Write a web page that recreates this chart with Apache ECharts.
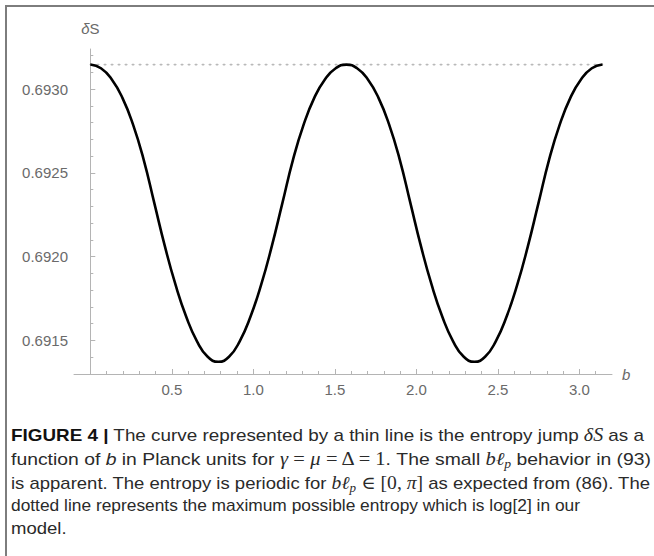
<!DOCTYPE html>
<html>
<head>
<meta charset="utf-8">
<script src="https://cdn.jsdelivr.net/npm/echarts@6/dist/echarts.min.js"></script>
<style>
  html, body { margin: 0; padding: 0; background: #fff; width: 654px; height: 556px; overflow: hidden; }
  #frame { position: absolute; left: 5px; top: 5px; width: 700px; height: 600px;
           border-top: 2px solid #7d7d7d; border-left: 2px solid #7d7d7d; }
  #chart { position: absolute; left: 0; top: 0; width: 654px; height: 410px; }
  #caption { position: absolute; left: 11px; top: 424px; font-family: "Liberation Sans", Arial, sans-serif;
             font-size: 17px; line-height: 22.8px; color: #2a2a2a; white-space: nowrap; }
  #caption .line { display: block; width: max-content; transform-origin: 0 0; }
  #caption b { color: #111; }
  .m { font-family: "Liberation Serif", "DejaVu Serif", serif; font-style: italic; font-size: 18px; }
  .r { font-family: "Liberation Serif", "DejaVu Serif", serif; font-size: 18px; }
  sub { font-size: 12px; vertical-align: -3px; line-height: 0; }
</style>
</head>
<body>
<div id="frame"></div>
<div id="chart"></div>
<div id="caption">
<div class="line"><b>FIGURE 4 |</b> The curve represented by a thin line is the entropy jump <span class="m">δS</span> as a</div>
<div class="line">function of <i>b</i> in Planck units for <span class="m">γ</span> <span class="r">=</span> <span class="m">μ</span> <span class="r">= Δ = 1</span>. The small <span class="m">bℓ<sub>p</sub></span> behavior in (93)</div>
<div class="line">is apparent. The entropy is periodic for <span class="m">bℓ<sub>p</sub></span> <span class="r">∈ [0, </span><span class="m">π</span><span class="r">]</span> as expected from (86). The</div>
<div class="line">dotted line represents the maximum possible entropy which is log[2] in our</div>
<div class="line">model.</div>
</div>
<script>
// ---- data ----
const bValues = [0, 0.0654, 0.1309, 0.1963, 0.2618, 0.3272, 0.3927, 0.4581, 0.5236, 0.5890,
  0.6545, 0.7199, 0.7854, 0.8508, 0.9163, 0.9817, 1.0472, 1.1126, 1.1781, 1.2435,
  1.3090, 1.3744, 1.4399, 1.5053, 1.5708, 1.6362, 1.7017, 1.7671, 1.8326, 1.8980,
  1.9635, 2.0289, 2.0944, 2.1598, 2.2253, 2.2907, 2.3562, 2.4216, 2.4871, 2.5525,
  2.6180, 2.6834, 2.7489, 2.8143, 2.8798, 2.9452, 3.0107, 3.0761, 3.1416];
const deltaS = [0.693147, 0.693125, 0.693060, 0.692950, 0.692790, 0.692580, 0.692320, 0.692060, 0.691830, 0.691640,
  0.691495, 0.691403, 0.691373, 0.691403, 0.691495, 0.691640, 0.691830, 0.692060, 0.692320, 0.692580,
  0.692790, 0.692950, 0.693060, 0.693125, 0.693147, 0.693125, 0.693060, 0.692950, 0.692790, 0.692580,
  0.692320, 0.692060, 0.691830, 0.691640, 0.691495, 0.691403, 0.691373, 0.691403, 0.691495, 0.691640,
  0.691830, 0.692060, 0.692320, 0.692580, 0.692790, 0.692950, 0.693060, 0.693125, 0.693147];
const maxLineB = [0, 3.1416];
const maxLineS = [0.693147, 0.693147];
const xTicks = [0.5, 1.0, 1.5, 2.0, 2.5, 3.0];
const yTicks = [0.6915, 0.6920, 0.6925, 0.6930];

const curve = bValues.map((b, i) => [b, deltaS[i]]);
const maxLine = maxLineB.map((b, i) => [b, maxLineS[i]]);

const axisGray = '#b4b4b4';
const labelGray = '#6a6a6a';
const chart = echarts.init(document.getElementById('chart'), null, { renderer: 'svg' });
chart.setOption({
  animation: false,
  grid: { left: 74, right: 42, top: 49, bottom: 36 },
  xAxis: {
    type: 'value', min: -0.1, max: 3.2, minInterval: 0.5, maxInterval: 0.5,
    splitLine: { show: false },
    axisLine: { lineStyle: { color: axisGray, width: 1 } },
    axisTick: { inside: true, length: 5, lineStyle: { color: axisGray }, customValues: xTicks },
    minorTick: { show: true, splitNumber: 5, length: 3, lineStyle: { color: axisGray } },
    axisLabel: {
      customValues: xTicks, margin: 8, color: labelGray, fontSize: 15,
      fontFamily: 'Liberation Sans',
      formatter: v => (xTicks.some(t => Math.abs(t - v) < 1e-6) ? v.toFixed(1) : '')
    },
    name: 'b', nameLocation: 'end', nameGap: 10,
    nameTextStyle: { color: labelGray, fontSize: 15, fontStyle: 'italic', fontFamily: 'Liberation Sans' }
  },
  yAxis: {
    type: 'value', min: 0.6913, max: 0.69324, minInterval: 0.0005, maxInterval: 0.0005,
    splitLine: { show: false },
    axisLine: { onZero: true, lineStyle: { color: axisGray, width: 1 } },
    axisTick: { inside: true, length: 5, lineStyle: { color: axisGray }, customValues: yTicks },
    minorTick: { show: true, splitNumber: 5, length: 3, lineStyle: { color: axisGray } },
    axisLabel: {
      customValues: yTicks, margin: 6, color: labelGray, fontSize: 15,
      fontFamily: 'Liberation Sans',
      formatter: v => (yTicks.some(t => Math.abs(t - v) < 1e-9) ? v.toFixed(4) : '')
    },
    name: '{d|δ}S', nameLocation: 'end', nameGap: 13,
    nameTextStyle: { color: labelGray, fontSize: 15, fontFamily: 'Liberation Sans', align: 'center',
      rich: { d: { fontStyle: 'italic', fontSize: 15, color: labelGray, fontFamily: 'Liberation Sans' } } }
  },
  series: [
    {
      type: 'line', data: maxLine, symbol: 'none', silent: true, z: 1,
      lineStyle: { color: '#b9b9b9', width: 1.6, type: [1.5, 5.5], cap: 'round' }
    },
    {
      type: 'line', data: curve, symbol: 'none', smooth: 0.5, z: 3,
      lineStyle: { color: '#000', width: 2.6 }
    }
  ]
});

// stretch caption lines horizontally so they span the same width as in the reference
const captionLeft = 11;
const lineEnds = [644, 651, 650, 580, 0];
const lines = document.querySelectorAll('#caption .line');
let scales = [];
lines.forEach((el, i) => {
  const w = el.getBoundingClientRect().width;
  scales.push(lineEnds[i] ? (lineEnds[i] - captionLeft) / w : null);
});
const valid = scales.filter(s => s);
const avg = valid.reduce((a, b) => a + b, 0) / valid.length;
lines.forEach((el, i) => {
  el.style.transform = 'scaleX(' + (scales[i] || avg) + ')';
});
</script>
</body>
</html>
